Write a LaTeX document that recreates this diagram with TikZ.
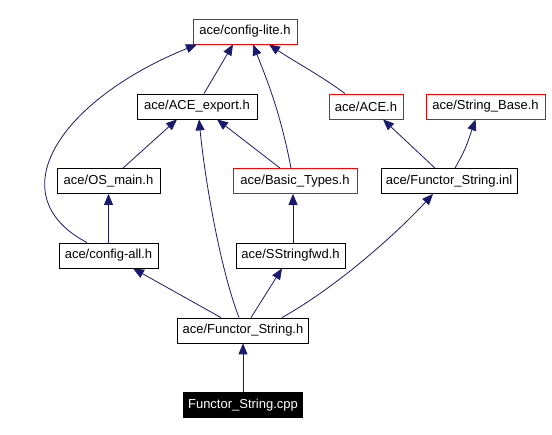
\documentclass[tikz,border=0pt]{standalone}
\usepackage[]{fontspec}
\usepackage[]{tikz}
\usepackage[]{xcolor}
\setmainfont{Liberation Sans}
\usetikzlibrary{arrows.meta}
\definecolor{incblue}{HTML}{191970}
\newcommand{\hdrfont}{\fontsize{13}{15}\selectfont}
\tikzset{hdr/.style = {draw, line width=0.8, minimum height=25, inner sep=0, font=\hdrfont}}
\tikzset{redhdr/.style = {hdr, draw=red}}
\tikzset{srcfile/.style = {hdr, fill=black, text=white}}
\tikzset{inc/.style = {draw=incblue, line width=0.8, -{Triangle[length=11pt,width=9pt]}}}

\begin{document}
\begin{tikzpicture}[x=1pt,y=-1pt]
        \useasboundingbox (0,0) rectangle (552,435);
        \node [redhdr, minimum width=104] (cfglite) at (245,31.5) {ace/config-lite.h};
        \node [hdr, minimum width=120] (aceexp) at (197,106.5) {ace/ACE\_export.h};
        \node [redhdr, minimum width=74] (acebase) at (366,106.5) {ace/ACE.h};
        \node [redhdr, minimum width=119] (strbase) at (485.5,106.5) {ace/String\_Base.h};
        \node [hdr, minimum width=103] (osmain) at (108.5,181) {ace/OS\_main.h};
        \node [redhdr, minimum width=124] (basic) at (295,181) {ace/Basic\_Types.h};
        \node [hdr, minimum width=136] (inl) at (449,181) {ace/Functor\_String.inl};
        \node [hdr, minimum width=99] (cfgall) at (108.5,255.5) {ace/config-all.h};
        \node [hdr, minimum width=109] (sstr) at (290.5,255.5) {ace/SStringfwd.h};
        \node [hdr, minimum width=131] (fsh) at (243,330.5) {ace/Functor\_String.h};
        \node [srcfile, minimum width=119] (cpp) at (243,405) {Functor\_String.cpp};
        \draw [inc] (cpp.north) -- (fsh.south);
        \draw [inc] ([xshift=-22pt]fsh.north) -- ([xshift=24.5pt]cfgall.south);
        \draw [inc] ([xshift=-4pt]fsh.north) .. controls (220,268) and (205,180) .. ([xshift=2pt]aceexp.south);
        \draw [inc] ([xshift=8pt]fsh.north) -- ([xshift=-8.5pt]sstr.south);
        \draw [inc] ([xshift=39pt]fsh.north) .. controls (340,285) and (400,230) .. ([xshift=-16pt]inl.south);
        \draw [inc] (cfgall.north) -- (osmain.south);
        \draw [inc] ([xshift=-21.5pt]cfgall.north) .. controls (-3,195) and (60,100) .. ([xshift=-48pt]cfglite.south);
        \draw [inc] ([xshift=14.5pt]osmain.north) -- ([xshift=-20pt]aceexp.south);
        \draw [inc] ([xshift=-15pt]basic.north) -- ([xshift=20pt]aceexp.south);
        \draw [inc] ([xshift=-4pt]basic.north) .. controls (280,110) and (265,75) .. ([xshift=8pt]cfglite.south);
        \draw [inc] ([xshift=2.5pt]sstr.north) -- ([xshift=-2pt]basic.south);
        \draw [inc] ([xshift=7pt]aceexp.north) -- ([xshift=-12pt]cfglite.south);
        \draw [inc] ([xshift=-21pt]acebase.north) .. controls (320,75) and (295,62) .. ([xshift=24pt]cfglite.south);
        \draw [inc] ([xshift=-14pt]inl.north) -- ([xshift=17pt]acebase.south);
        \draw [inc] ([xshift=6pt]inl.north) .. controls (465,150) .. ([xshift=-10pt]strbase.south);
    \end{tikzpicture}
\end{document}
